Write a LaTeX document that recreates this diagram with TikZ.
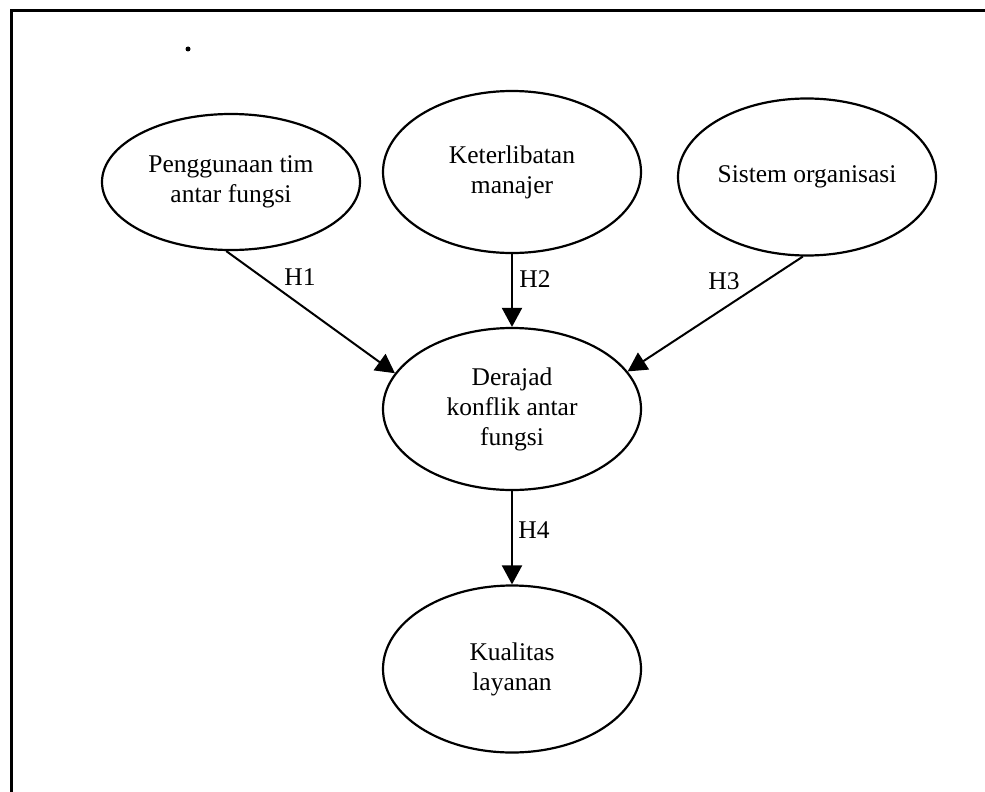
\documentclass[tikz,border=0pt]{standalone}
\usepackage{fontspec}
\setmainfont{Liberation Serif}
\usetikzlibrary{shapes.geometric,arrows.meta}
\begin{document}
\begin{tikzpicture}[x=1pt,y=-1pt,
  bub/.style={ellipse,draw,line width=2.2pt,inner sep=0pt,minimum width=258pt,align=center,font=\fontsize{25.5}{30}\selectfont},
  link/.style={line width=2pt,-{Triangle[length=19pt,width=20pt]}},
  lab/.style={font=\fontsize{25.5}{30}\selectfont,inner sep=0pt}]
\useasboundingbox (0,0) rectangle (985,792);
\draw[line width=3pt] (985,11) -- (11,11) -- (11,792);
\fill (188,49) circle (2.5pt);
\node[bub,minimum height=136pt] (e1) at (231,182) {Penggunaan tim\\antar fungsi};
\node[bub,minimum height=162pt] (e2) at (512,172) {Keterlibatan\\manajer};
\node[bub,minimum height=157pt] (e3) at (807,177) {Sistem organisasi};
\node[bub,minimum height=162pt] (e4) at (512,409) {Derajad\\konflik antar\\fungsi};
\node[bub,minimum height=167pt] (e5) at (512,669) {Kualitas\\layanan};
\draw[link] (e1.-94) -- (e4.163);
\draw[link] (e2.south) -- (e4.north);
\draw[link] (e3.-93) -- (e4.18);
\draw[link] (e4.south) -- (e5.north);
\node[lab] (h1) at (300,277) {H1};
\node[lab] (h2) at (535,279) {H2};
\node[lab] (h3) at (724,281) {H3};
\node[lab] (h4) at (534,530) {H4};
\end{tikzpicture}
\end{document}
